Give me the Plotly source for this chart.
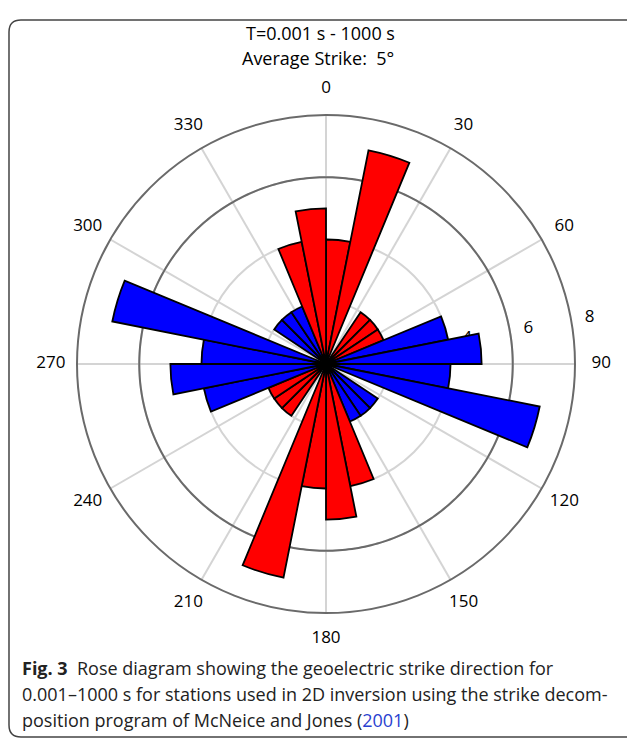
import numpy as np
import plotly.graph_objects as go

# ---- data ----
bin_width = 11.25
bin_starts = [0.0, 11.25, 22.5, 33.75, 45.0, 56.25, 67.5, 78.75,
              90.0, 101.25, 112.5, 123.75, 135.0, 146.25, 157.5, 168.75,
              180.0, 191.25, 202.5, 213.75, 225.0, 236.25, 247.5, 258.75,
              270.0, 281.25, 292.5, 303.75, 315.0, 326.25, 337.5, 348.75]
counts = [4, 7, 0, 2, 2, 2, 4, 5,
          4, 7, 0, 2, 2, 2, 4, 5,
          4, 7, 0, 2, 2, 2, 4, 5,
          4, 7, 0, 2, 2, 2, 4, 5]
groups = ["strike", "strike", "strike", "strike", "strike", "strike", "perp", "perp",
          "perp", "perp", "perp", "perp", "perp", "perp", "strike", "strike",
          "strike", "strike", "strike", "strike", "strike", "strike", "perp", "perp",
          "perp", "perp", "perp", "perp", "perp", "perp", "strike", "strike"]
angle_ticks = [0, 30, 60, 90, 120, 150, 180, 210, 240, 270, 300, 330]
radial_ticks = [2, 4, 6, 8]
dark_rings = [6]
title_lines = ["T=0.001 s - 1000 s", "Average Strike:  5°"]

# ---- geometry ----
W, H = 627, 743
cx, cy, R = 326, 364, 249
rmax = 8
label_rmax = 9.0          # extended range of the label layer


def domain(radius):
    return dict(x=[(cx - radius) / W, (cx + radius) / W],
                y=[1 - (cy + radius) / H, 1 - (cy - radius) / H])


colors = {"strike": "#ff0000", "perp": "#0000ff"}
FONT = "Open Sans"

fig = go.Figure()

# ---- polar: grid + dark ring ----
ring_theta = np.linspace(0, 360, 361)
for rr in dark_rings:
    fig.add_trace(go.Scatterpolar(
        r=[rr] * len(ring_theta), theta=ring_theta, mode="lines",
        line=dict(color="#6a6a6a", width=2), hoverinfo="skip", showlegend=False,
        subplot="polar"))

# ---- polar2: tick labels (same scale, larger range) ----
fig.add_trace(go.Scatterpolar(
    r=[t + 0.6 for t in radial_ticks], theta=[80.0] * len(radial_ticks),
    mode="text", text=[str(t) for t in radial_ticks],
    textfont=dict(family=FONT, size=17, color="black"),
    hoverinfo="skip", showlegend=False, subplot="polar2"))
fig.add_trace(go.Scatterpolar(
    r=[rmax * 1.105] * len(angle_ticks), theta=angle_ticks,
    mode="text", text=[str(a) for a in angle_ticks],
    textfont=dict(family=FONT, size=17, color="black"),
    hoverinfo="skip", showlegend=False, subplot="polar2"))

# ---- polar3: the rose bars ----
centers = [s + bin_width / 2 for s in bin_starts]
fig.add_trace(go.Barpolar(
    r=counts, theta=centers, width=[bin_width] * len(counts),
    marker=dict(color=[colors[g] for g in groups],
                line=dict(color="black", width=1.8)),
    showlegend=False, subplot="polar3"))

common_ang = dict(rotation=90, direction="clockwise")
hidden_ang = dict(**common_ang, showticklabels=False, ticks="", showgrid=False, showline=False)
fig.update_layout(
    width=W, height=H,
    margin=dict(l=0, r=0, t=0, b=0),
    paper_bgcolor="white",
    font=dict(family=FONT, color="black"),
    polar=dict(
        domain=domain(R),
        bgcolor="white",
        angularaxis=dict(
            **common_ang,
            tickmode="array", tickvals=angle_ticks,
            showticklabels=False, ticks="",
            showgrid=True, gridcolor="#d4d4d4", gridwidth=2,
            showline=True, linecolor="#6a6a6a", linewidth=2),
        radialaxis=dict(
            range=[0, rmax], tickmode="array", tickvals=radial_ticks,
            showticklabels=False, ticks="", showline=False,
            showgrid=True, gridcolor="#d4d4d4", gridwidth=2),
    ),
    polar2=dict(
        domain=domain(R * label_rmax / rmax),
        bgcolor="rgba(0,0,0,0)",
        angularaxis=hidden_ang,
        radialaxis=dict(range=[0, label_rmax], showticklabels=False, ticks="",
                        showgrid=False, showline=False),
    ),
    polar3=dict(
        domain=domain(R),
        bgcolor="rgba(0,0,0,0)",
        angularaxis=hidden_ang,
        radialaxis=dict(range=[0, rmax], showticklabels=False, ticks="",
                        showgrid=False, showline=False),
    ),
)

# title lines
fig.add_annotation(text=title_lines[0], x=320 / W, y=1 - 33 / H, xref="paper", yref="paper",
                   yanchor="middle", showarrow=False,
                   font=dict(family=FONT, size=18, color="black"))
fig.add_annotation(text=title_lines[1], x=318 / W, y=1 - 58 / H, xref="paper", yref="paper",
                   yanchor="middle", showarrow=False,
                   font=dict(family=FONT, size=18, color="black"))

# caption
caption = [
    "<b>Fig. 3</b>  Rose diagram showing the geoelectric strike direction for",
    "0.001–1000 s for stations used in 2D inversion using the strike decom-",
    "position program of McNeice and Jones (<span style='color:#2a3fd0'>2001</span>)",
]
for i, line in enumerate(caption):
    fig.add_annotation(text=line, x=20 / W, y=1 - (668 + 26 * i) / H, xref="paper", yref="paper",
                       xanchor="left", yanchor="middle", showarrow=False, align="left",
                       font=dict(family=FONT, size=18, color="#222222"))

# rounded frame (left, top, bottom)
def px(x, y):
    return f"{x / W:.5f},{1 - y / H:.5f}"

x0, y0, x1, y1, rc = 9, 20, 627, 737, 12
path = (f"M {px(x1, y0)} L {px(x0 + rc, y0)} Q {px(x0, y0)} {px(x0, y0 + rc)} "
        f"L {px(x0, y1 - rc)} Q {px(x0, y1)} {px(x0 + rc, y1)} L {px(x1, y1)}")
fig.add_shape(type="path", path=path, xref="paper", yref="paper",
              line=dict(color="#444444", width=1.5))

fig.write_html("out.html", config={"displayModeBar": False},
               post_script="document.body.style.margin='0';document.body.style.overflow='hidden';")
